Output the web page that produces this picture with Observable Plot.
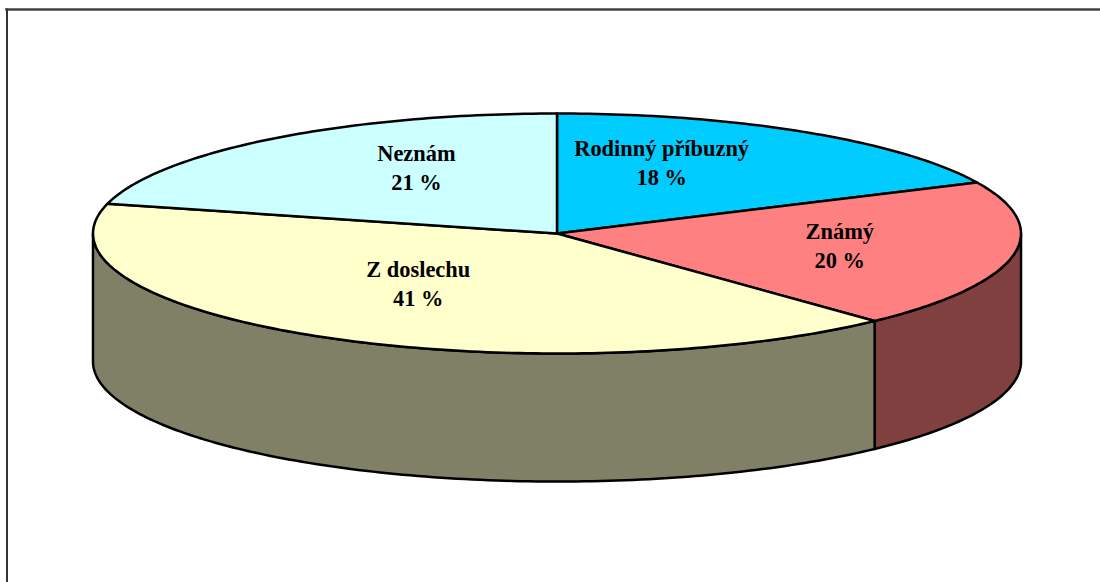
<!DOCTYPE html>
<html>
<head>
<meta charset="utf-8">
<script src="https://cdn.jsdelivr.net/npm/d3@7"></script>
<script src="https://cdn.jsdelivr.net/npm/@observablehq/plot@0.6"></script>
<style>
html,body{margin:0;padding:0;background:#fff;overflow:hidden}
svg{display:block}
</style>
</head>
<body>
<div id="chart"></div>
<script>
// Data, clockwise from 12 o'clock
const categories = ["Rodinný příbuzný", "Známý", "Z doslechu", "Neznám"];
const shares = [18, 20, 41, 21];
const topColors = ["#00CCFF", "#FF8080", "#FFFFCC", "#CCFFFF"];
const wallColors = ["#006680", "#804040", "#808066", "#668080"];
const labelX = [0.2255, 0.6095, -0.299, -0.303];
const labelY = [0.602, -0.09, -0.406, 0.56];

const depth = 128 / 120; // wall height in units of the ellipse's minor radius
const total = d3.sum(shares);
const edges = [0, ...d3.cumsum(shares).map(v => v / total * 360)];
const rad = d => d * Math.PI / 180;
const rim = (deg, drop = 0) => ({x: Math.sin(rad(deg)), y: Math.cos(rad(deg)) - drop});
const sweep = (a, b) => {
  const n = Math.max(1, Math.ceil(Math.abs(b - a)));
  return d3.range(n + 1).map(i => a + (b - a) * i / n);
};

const marks = [];
const outline = {x: "x", y: "y", stroke: "#000", strokeWidth: 2.5, strokeLinejoin: "round"};
// Side walls: only the front half of the rim (90°..270°) is visible
categories.forEach((c, i) => {
  const a = Math.max(edges[i], 90), b = Math.min(edges[i + 1], 270);
  if (b <= a) return;
  const pts = [...sweep(a, b).map(d => rim(d)), ...sweep(b, a).map(d => rim(d, depth))];
  pts.push(pts[0]);
  marks.push(Plot.line(pts, {...outline, fill: wallColors[i]}));
});
// Top face
categories.forEach((c, i) => {
  const pts = [{x: 0, y: 0}, ...sweep(edges[i], edges[i + 1]).map(d => rim(d)), {x: 0, y: 0}];
  marks.push(Plot.line(pts, {...outline, fill: topColors[i]}));
});
// Labels
const labels = categories.map((c, i) => ({text: `${c}\n${shares[i]} %`, x: labelX[i], y: labelY[i]}));
marks.push(Plot.text(labels, {
  x: "x", y: "y", text: "text", fill: "#000",
  fontFamily: "Liberation Serif", fontWeight: "bold", fontSize: 22.4, lineHeight: 29 / 22.4
}));
// Partial chart border (top and left sides only)
marks.push(Plot.frame({anchor: "top", insetTop: 9, insetLeft: 6, stroke: "#404040", strokeWidth: 2.5, strokeOpacity: 1}));
marks.push(Plot.frame({anchor: "left", insetTop: 9, insetLeft: 6.5, stroke: "#333", strokeWidth: 2, strokeOpacity: 1}));

const chart = Plot.plot({
  width: 1100, height: 582,
  margin: 0,
  style: {background: "#fff", overflow: "visible"},
  x: {domain: [-1, 1], range: [92.5, 1020.5], axis: null},
  y: {domain: [1, -1], range: [113, 353], axis: null},
  marks
});
document.getElementById("chart").append(chart);
</script>
</body>
</html>
